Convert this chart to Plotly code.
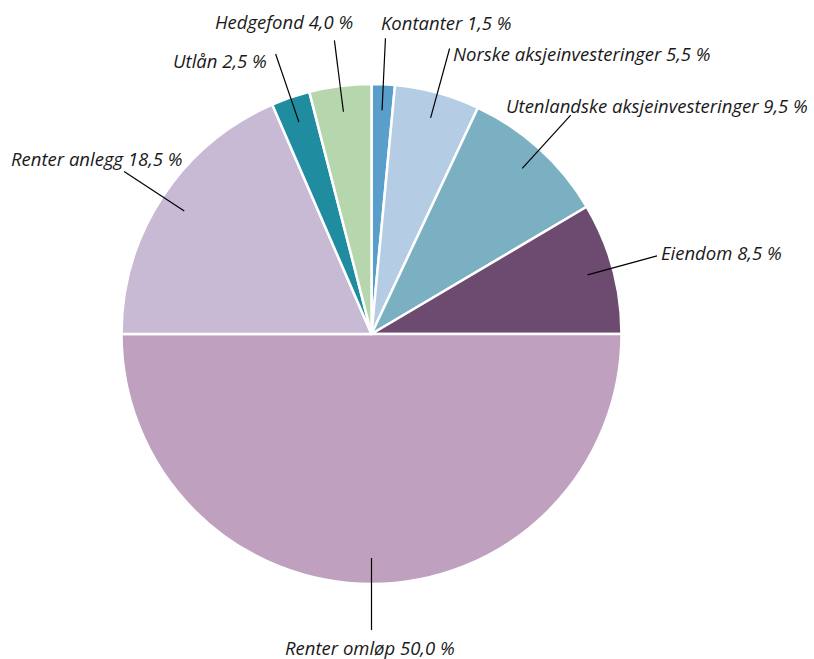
import math
import plotly.graph_objects as go

# ---- data ----
labels = ["Kontanter", "Norske aksjeinvesteringer", "Utenlandske aksjeinvesteringer",
          "Eiendom", "Renter omløp", "Renter anlegg", "Utlån", "Hedgefond"]
values = [1.5, 5.5, 9.5, 8.5, 50.0, 18.5, 2.5, 4.0]
colors = ["#5a9fcb", "#b5cde4", "#7bafc2", "#6d4a6f", "#bfa1bf", "#c8bad5", "#208ca0", "#b6d6ae"]

# ---- layout geometry (pixels) ----
W, H = 814, 659
CX, CY, R = 371.5, 334.0, 250.0
R_IN, R_OUT = 0.896, 1.184
# text placement relative to the outer end of each leader line: (dx, dy, xanchor)
label_offsets = [(-6, -16, "left"), (1, 5, "left"), (-67, -10, "left"), (2, -3, "left"),
                 (-2, 17, "center"), (61, -13, "right"), (-7, 7, "right"), (-50, -19, "center")]

def px(x):
    return x / W

def py(y):
    return 1 - y / H

fig = go.Figure(go.Pie(
    labels=labels, values=values, sort=False, direction="clockwise", rotation=0,
    marker=dict(colors=colors, line=dict(color="white", width=2.5)),
    textinfo="none", hoverinfo="label+percent",
    domain=dict(x=[px(CX - R), px(CX + R)], y=[py(CY + R), py(CY - R)]),
    showlegend=False,
))

total = sum(values)
cum = 0.0
shapes = []
annotations = []
for lab, v, (dx, dy, xa) in zip(labels, values, label_offsets):
    mid = (cum + v / 2) / total * 2 * math.pi
    cum += v
    sx, sy = math.sin(mid), -math.cos(mid)
    x0, y0 = CX + R * R_IN * sx, CY + R * R_IN * sy
    x1, y1 = CX + R * R_OUT * sx, CY + R * R_OUT * sy
    shapes.append(dict(type="line", xref="paper", yref="paper",
                       x0=px(x0), y0=py(y0), x1=px(x1), y1=py(y1),
                       line=dict(color="black", width=1.2)))
    txt = f"{lab} {v:.1f} %".replace(".", ",")
    annotations.append(dict(x=px(x1 + dx), y=py(y1 + dy), xref="paper", yref="paper",
                            text=txt, showarrow=False, xanchor=xa, yanchor="middle",
                            font=dict(family="Open Sans", size=18.5, color="#1a1a1a", style="italic")))

fig.update_layout(
    width=W, height=H, margin=dict(l=0, r=0, t=0, b=0),
    paper_bgcolor="white", plot_bgcolor="white",
    shapes=shapes, annotations=annotations,
)
fig.write_html("out.html", config={"displayModeBar": False},
               post_script="document.body.style.margin='0px';document.body.style.overflow='hidden';")
